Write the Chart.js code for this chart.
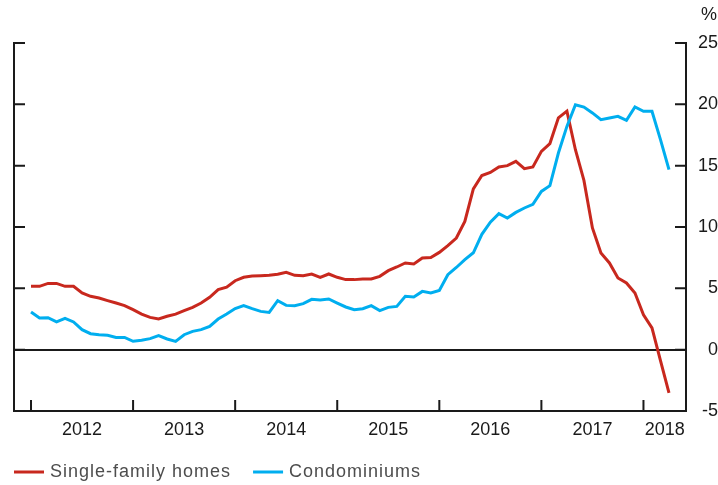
<!DOCTYPE html>
<html>
<head>
<meta charset="utf-8">
<script src="https://cdn.jsdelivr.net/npm/chart.js@4.4.1/dist/chart.umd.min.js"></script>
<style>
    html, body { margin: 0; padding: 0; background: #fff; }
</style>
</head>
<body>
<canvas id="myChart" width="718" height="485"></canvas>
<script>
// monthly % change, Jan 2012 .. Apr 2018
const singleFamily = [
    5.16, 5.16, 5.4, 5.4, 5.16, 5.16, 4.62, 4.35, 4.21, 4.0, 3.8, 3.59,
    3.26, 2.9, 2.63, 2.5, 2.72, 2.9, 3.18, 3.45, 3.8, 4.27, 4.9, 5.1,
    5.62, 5.9, 6.0, 6.03, 6.06, 6.15, 6.3, 6.06, 6.03, 6.17, 5.9, 6.17,
    5.9, 5.71, 5.71, 5.76, 5.76, 5.98, 6.44, 6.74, 7.07, 6.99, 7.47, 7.52,
    7.93, 8.48, 9.1, 10.46, 13.1, 14.2, 14.45, 14.9, 15.0, 15.35, 14.76, 14.89,
    16.17, 16.8, 18.9, 19.45, 16.3, 13.8, 9.92, 7.88, 7.07, 5.84, 5.44, 4.62,
    2.85, 1.77, -0.9, -3.53
];
const condos = [
    3.07, 2.58, 2.6, 2.26, 2.55, 2.26, 1.63, 1.3, 1.22, 1.17, 1.0, 1.0,
    0.68, 0.76, 0.9, 1.14, 0.87, 0.68, 1.22, 1.49, 1.63, 1.9, 2.5, 2.9,
    3.35, 3.59, 3.34, 3.12, 3.04, 3.99, 3.61, 3.59, 3.75, 4.1, 4.05, 4.13,
    3.8, 3.48, 3.26, 3.34, 3.59, 3.18, 3.45, 3.53, 4.35, 4.29, 4.75, 4.62,
    4.83, 6.11, 6.7, 7.34, 7.9, 9.4, 10.4, 11.09, 10.73, 11.19, 11.55, 11.85,
    12.9, 13.37, 16.03, 18.2, 19.97, 19.78, 19.3, 18.75, 18.89, 19.02, 18.69, 19.78,
    19.43, 19.43, 17.12, 14.67
];
const seriesNames = ['Single-family homes', 'Condominiums'];
const seriesColors = ['#c8281e', '#00aeef'];
const yearLabels = ['2012', '2013', '2014', '2015', '2016', '2017', '2018'];
const yTicks = [-5, 0, 5, 10, 15, 20, 25];

const xMin = -2, xMax = 77;   // months since Jan 2012
const fontFamily = '"Liberation Sans", Arial, Helvetica, sans-serif';
const axisColor = '#1a1a1a';

function toPoints(arr) {
    return arr.map((v, i) => ({ x: i, y: v }));
}

const tickMarks = {
    id: 'tickMarks',
    beforeDatasetsDraw(chart) {
        const { ctx, chartArea: a, scales } = chart;
        ctx.save();
        ctx.strokeStyle = axisColor;
        ctx.lineWidth = 2;
        ctx.beginPath();
        yTicks.forEach(v => {
            const py = scales.y.getPixelForValue(v);
            ctx.moveTo(a.left, py); ctx.lineTo(a.left + 11, py);
            ctx.moveTo(a.right - 11, py); ctx.lineTo(a.right, py);
        });
        yearLabels.forEach((_, k) => {
            const px = scales.x.getPixelForValue(k * 12);
            ctx.moveTo(px, a.bottom); ctx.lineTo(px, a.bottom - 11);
        });
        ctx.stroke();
        ctx.restore();
    },
    afterDraw(chart) {
        const { ctx, chartArea: a } = chart;
        ctx.save();
        ctx.font = '18px ' + fontFamily;
        ctx.fillStyle = axisColor;
        ctx.textAlign = 'right';
        ctx.textBaseline = 'middle';
        ctx.fillText('%', chart.width - 1, a.top - 28);

        // legend
        ctx.textAlign = 'left';
        ctx.fillStyle = '#4d4d4d';
        ctx.letterSpacing = '1px';
        let x = a.left;
        const y = 472;
        chart.data.datasets.forEach(ds => {
            ctx.fillStyle = ds.borderColor;
            ctx.fillRect(x, y - 1.5, 30, 3);
            ctx.fillStyle = '#4d4d4d';
            ctx.fillText(ds.label, x + 36, y);
            x += 36 + ctx.measureText(ds.label).width + 22;
        });
        ctx.restore();
    }
};

const ctx = document.getElementById('myChart');
const tickFont = { family: fontFamily, size: 18 };

const myChart = new Chart(ctx, {
    type: 'line',
    data: {
        datasets: [{
            label: seriesNames[0],
            data: toPoints(singleFamily),
            borderColor: seriesColors[0],
            backgroundColor: seriesColors[0],
            borderWidth: 3,
            pointRadius: 0,
            tension: 0,
            order: 1
        }, {
            label: seriesNames[1],
            data: toPoints(condos),
            borderColor: seriesColors[1],
            backgroundColor: seriesColors[1],
            borderWidth: 3,
            pointRadius: 0,
            tension: 0,
            order: 0
        }]
    },
    options: {
        responsive: false,
        animation: false,
        layout: { padding: { top: 43, left: 0, right: 0, bottom: 0 } },
        plugins: {
            legend: { display: false },
            tooltip: { enabled: false }
        },
        scales: {
            x: {
                type: 'linear',
                min: xMin,
                max: xMax,
                grid: { drawOnChartArea: false, drawTicks: false },
                border: { color: axisColor, width: 2 },
                afterBuildTicks: scale => {
                    scale.ticks = yearLabels.map((_, k) => ({
                        value: k < yearLabels.length - 1 ? k * 12 + 6 : (k * 12 + xMax) / 2
                    }));
                },
                ticks: {
                    callback: (v, i) => yearLabels[i],
                    autoSkip: false,
                    maxRotation: 0,
                    padding: 8,
                    font: tickFont,
                    color: axisColor
                },
                afterFit: scale => { scale.height = 74; }
            },
            y: {
                position: 'left',
                min: -5,
                max: 25,
                ticks: { stepSize: 5, display: false },
                grid: {
                    drawTicks: false,
                    lineWidth: 2,
                    color: c => c.tick && c.tick.value === 0 ? axisColor : 'rgba(0,0,0,0)'
                },
                border: { color: axisColor, width: 2 },
                afterFit: scale => { scale.width = 14; }
            },
            y1: {
                position: 'right',
                min: -5,
                max: 25,
                ticks: {
                    stepSize: 5,
                    padding: 11,
                    crossAlign: 'far',
                    font: tickFont,
                    color: axisColor
                },
                grid: { drawOnChartArea: false, drawTicks: false },
                border: { color: axisColor, width: 2 },
                afterFit: scale => { scale.width = 32; }
            }
        }
    },
    plugins: [tickMarks]
});
</script>
</body>
</html>
